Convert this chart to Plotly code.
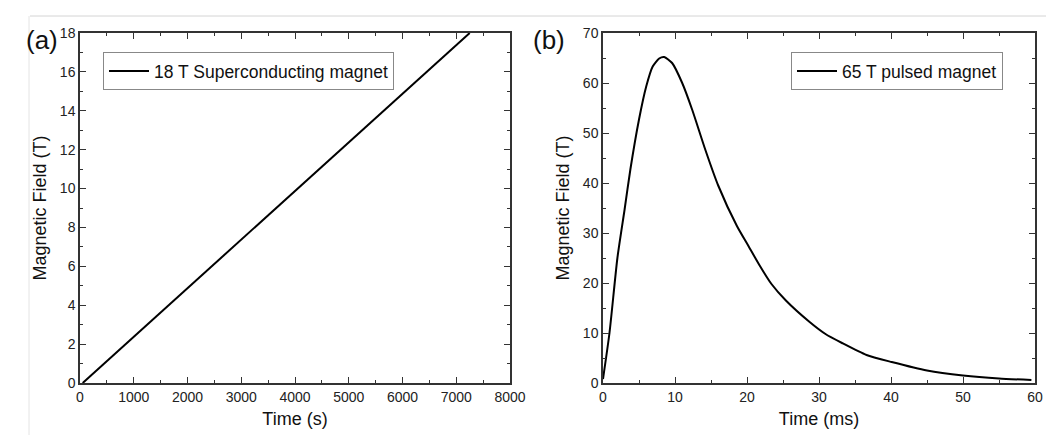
import plotly.graph_objects as go

# ---- data ----
time_a = [50, 1000, 2000, 3000, 4000, 5000, 6000, 7250]           # s
field_a = [0, 2.37, 4.87, 7.37, 9.87, 12.37, 14.87, 18.0]          # T

time_b = [0, 0.9, 2.0, 3.0, 3.8, 5.0, 6.0, 6.9, 7.8, 8.5, 9.6, 11.0, 12.4, 14.2,
          16.0, 18.6, 20.2, 21.8, 23.4, 25.4, 28.7, 30.9, 33.2, 36.6, 40.1, 45.0,
          50.0, 55.0, 59.5]                                         # ms
field_b = [0.8, 10, 25, 34.7, 42.7, 52.7, 59.3, 63.3, 64.9, 65.2, 64.0, 60.0, 54.6,
           46.7, 39.5, 31.4, 27.4, 23.4, 19.8, 16.5, 12.2, 9.8, 8.0, 5.6, 4.2, 2.5,
           1.5, 0.9, 0.6]                                           # T

name_a = "18 T Superconducting magnet"
name_b = "65 T pulsed magnet"

W, H = 1046, 435
FONT = "Liberation Sans, Arial, sans-serif"
AXC = "#333333"

def px_x(p):
    return p / W

def px_y(p):
    return 1 - p / H

fig = go.Figure()
fig.add_trace(go.Scatter(x=time_a, y=field_a, mode="lines", name=name_a,
                         line=dict(color="black", width=2), xaxis="x", yaxis="y",
                         legend="legend"))
fig.add_trace(go.Scatter(x=time_b, y=field_b, mode="lines", name=name_b,
                         line=dict(color="black", width=2, shape="spline", smoothing=0.6),
                         xaxis="x2", yaxis="y2", legend="legend2"))

def axis(domain, rng, dtick, minor_dtick, title, anchor, standoff):
    return dict(
        domain=domain, range=rng, dtick=dtick, tick0=0, anchor=anchor,
        automargin=False,
        showgrid=False, zeroline=False, showline=True, linecolor=AXC, linewidth=1.5,
        mirror="ticks", ticks="inside", ticklen=6, tickwidth=1.2, tickcolor=AXC,
        minor=dict(dtick=minor_dtick, ticks="inside", ticklen=3, tickwidth=1.2,
                   tickcolor=AXC, showgrid=False),
        tickfont=dict(family=FONT, size=14, color="#222"),
        title=dict(text=title, font=dict(family=FONT, size=18, color="#111"),
                   standoff=standoff),
        fixedrange=True,
    )

ydom = [px_y(383), px_y(33)]
fig.update_layout(
    width=W, height=H,
    margin=dict(l=0, r=0, t=0, b=0),
    paper_bgcolor="white", plot_bgcolor="white",
    showlegend=True,
    xaxis=axis([px_x(80), px_x(510)], [0, 8000], 1000, 500, "Time (s)", "y", 9),
    yaxis=axis(ydom, [0, 18], 2, 1, "Magnetic Field (T)", "x", 9),
    xaxis2=axis([px_x(603), px_x(1035)], [0, 60], 10, 5, "Time (ms)", "y2", 9),
    yaxis2=axis(ydom, [0, 70], 10, 5, "Magnetic Field (T)", "x2", 9),
    legend=dict(x=px_x(103), y=px_y(52), xanchor="left", yanchor="top",
                bgcolor="white", bordercolor="#888", borderwidth=1,
                font=dict(family=FONT, size=17.5, color="#111"),
                itemclick=False, tracegroupgap=0, itemwidth=40),
    legend2=dict(x=px_x(1003), y=px_y(52), xanchor="right", yanchor="top",
                 bgcolor="white", bordercolor="#888", borderwidth=1,
                 font=dict(family=FONT, size=17.5, color="#111"),
                 itemclick=False, tracegroupgap=0, itemwidth=40),
    annotations=[
        dict(text="(a)", x=px_x(24), y=px_y(23), xref="paper", yref="paper",
             showarrow=False, font=dict(family=FONT, size=26, color="#111")),
        dict(text="(b)", x=px_x(549), y=px_y(23), xref="paper", yref="paper",
             showarrow=False, font=dict(family=FONT, size=26, color="#111")),
    ],
    shapes=[
        dict(type="line", xref="paper", yref="paper", x0=px_x(30), x1=1,
             y0=px_y(16), y1=px_y(16), line=dict(color="#d4d4d4", width=1), layer="below"),
        dict(type="line", xref="paper", yref="paper", x0=px_x(29), x1=px_x(29),
             y0=px_y(16), y1=0, line=dict(color="#e4e4e4", width=1), layer="below"),
    ],
)

fig.write_html("out.html",
               config={"displayModeBar": False},
               post_script="document.body.style.margin='0';document.body.style.overflow='hidden';")
